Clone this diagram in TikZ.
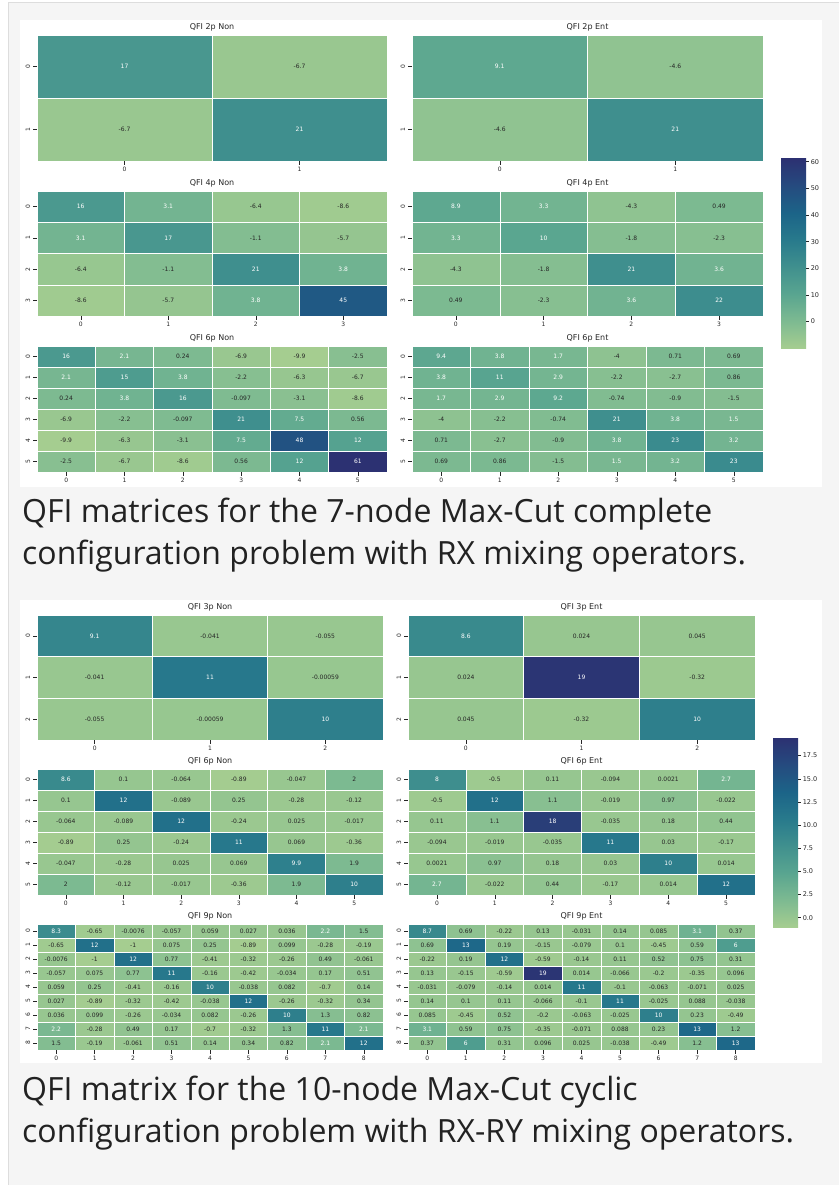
\documentclass[tikz,border=0pt]{standalone}
\usepackage{fontspec}
\newfontfamily\plotfont{DejaVu Sans}
\newfontfamily\capfont{Open Sans}
\usetikzlibrary{calc}

\definecolor{crest0}{HTML}{A5CD90}
\definecolor{crest1}{HTML}{7DBA91}
\definecolor{crest2}{HTML}{59A590}
\definecolor{crest3}{HTML}{40908E}
\definecolor{crest4}{HTML}{287A8C}
\definecolor{crest5}{HTML}{1C6488}
\definecolor{crest6}{HTML}{254B7F}
\definecolor{crest7}{HTML}{2C3172}
\definecolor{pagebg}{HTML}{F5F5F5}
\definecolor{pageline}{HTML}{DDDDDD}
\definecolor{axisgray}{HTML}{262626}
\definecolor{captext}{HTML}{222222}

\pgfdeclareverticalshading{crestbar}{100bp}{color(0bp)=(crest0); color(25bp)=(crest0);
  color(32.14bp)=(crest1); color(39.29bp)=(crest2); color(46.43bp)=(crest3);
  color(53.57bp)=(crest4); color(60.71bp)=(crest5); color(67.86bp)=(crest6);
  color(75bp)=(crest7); color(100bp)=(crest7)}

% name, title, left, top, width, height, size, rows
\newcommand{\qfimap}[8]{%
  \pgfmathsetmacro\cw{#5/#7}%
  \pgfmathsetmacro\ch{#6/#7}%
  \pgfmathtruncatemacro\lastrow{#7-1}%
  \node[maptitle] (#1-title) at ({#3+#5/2},{#4-8}) {#2};
  \foreach \row [count=\i from 0] in {#8} {
    \foreach \v [count=\j from 0] in \row {
      \pgfmathsetmacro\tq{(\v-\vlow)/(\vhigh-\vlow)*7}
      \pgfmathtruncatemacro\kk{min(\tq,6.999)}
      \pgfmathtruncatemacro\kn{\kk+1}
      \pgfmathtruncatemacro\ff{(\tq-\kk)*100}
      \pgfmathtruncatemacro\islight{\tq>\vtext}
      \edef\mixc{crest\kn!\ff!crest\kk}
      \colorlet{cellc}{\mixc}
      \ifnum\islight=1 \colorlet{cellt}{white}\else\colorlet{cellt}{axisgray}\fi
      \node[cell, fill=cellc, text=cellt, minimum width=\cw pt, minimum height=\ch pt]
        (#1-\i-\j) at ({#3+(\j+0.5)*\cw},{#4+(\i+0.5)*\ch}) {\v};
    }
    \draw[tick] (#1-\i-0.west) -- ++(-3.5,0);
    \node[rowlab] (#1-r\i) at ({#3-9},{#4+(\i+0.5)*\ch}) {\i};
  }
  \foreach \j in {0,...,\lastrow} {
    \draw[tick] (#1-\lastrow-\j.south) -- ++(0,3.5);
    \node[collab] (#1-c\j) at ({#3+(\j+0.5)*\cw},{#4+#6+8.5}) {\j};
  }
}

% name, left, top, right, bottom, ticks
\newcommand{\qfibar}[6]{%
  \shade[shading=crestbar] (#2,#3) rectangle (#4,#5);
  \foreach \t [count=\k] in {#6} {
    \pgfmathsetmacro\ty{#5-(\t-\vlow)/(\vhigh-\vlow)*(#5-#3)}
    \draw[tick] (#4,\ty) -- ++(3,0) node[barlab] (#1-\k) {\t};
  }
}

\begin{document}
\begin{tikzpicture}
  [
    x=1pt, y=-1pt,
    cell/.style={draw=white, line width=0.5pt, inner sep=0pt, font=\plotfont\fontsize{6}{7}\selectfont},
    maptitle/.style={inner sep=0pt, text=axisgray, font=\plotfont\fontsize{8}{9}\selectfont},
    rowlab/.style={inner sep=0pt, rotate=90, text=axisgray, font=\plotfont\fontsize{6}{7}\selectfont},
    collab/.style={inner sep=0pt, text=axisgray, font=\plotfont\fontsize{6}{7}\selectfont},
    barlab/.style={anchor=west, inner sep=1.5pt, text=axisgray, font=\plotfont\fontsize{6.5}{7}\selectfont},
    tick/.style={draw=axisgray, line width=0.5pt},
    caption/.style={anchor=base west, inner sep=0pt, text=captext, font=\capfont\fontsize{32}{42}\selectfont},
  ]
  \useasboundingbox (0,0) rectangle (838,1185);
  \fill[white] (0,0) rectangle (838,1185);
  \filldraw[fill=pagebg, draw=pageline] (8,2) rectangle (845,1195);
  \fill[white] (20,20) rectangle (822,487);
  \fill[white] (20,600) rectangle (822,1063);

  \def\vlow{-9.9}\def\vhigh{61}\def\vtext{1.085}
  \qfimap{nonA}{QFI 2p Non}{37}{35}{350}{126}{2}{{17,-6.7},{-6.7,21}}
  \qfimap{entA}{QFI 2p Ent}{412}{35}{351}{126}{2}{{9.1,-4.6},{-4.6,21}}
  \qfimap{nonB}{QFI 4p Non}{37}{191}{350}{125}{4}{{16,3.1,-6.4,-8.6},{3.1,17,-1.1,-5.7},{-6.4,-1.1,21,3.8},{-8.6,-5.7,3.8,45}}
  \qfimap{entB}{QFI 4p Ent}{412}{191}{351}{125}{4}{{8.9,3.3,-4.3,0.49},{3.3,10,-1.8,-2.3},{-4.3,-1.8,21,3.6},{0.49,-2.3,3.6,22}}
  \qfimap{nonC}{QFI 6p Non}{37}{346}{350}{126}{6}{{16,2.1,0.24,-6.9,-9.9,-2.5},{2.1,15,3.8,-2.2,-6.3,-6.7},{0.24,3.8,16,-0.097,-3.1,-8.6},{-6.9,-2.2,-0.097,21,7.5,0.56},{-9.9,-6.3,-3.1,7.5,48,12},{-2.5,-6.7,-8.6,0.56,12,61}}
  \qfimap{entC}{QFI 6p Ent}{412}{346}{351}{126}{6}{{9.4,3.8,1.7,-4,0.71,0.69},{3.8,11,2.9,-2.2,-2.7,0.86},{1.7,2.9,9.2,-0.74,-0.9,-1.5},{-4,-2.2,-0.74,21,3.8,1.5},{0.71,-2.7,-0.9,3.8,23,3.2},{0.69,0.86,-1.5,1.5,3.2,23}}
  \qfibar{barA}{781}{159}{806}{348}{0,10,20,30,40,50,60}

  \node[caption] (capA1) at (22,522) {QFI matrices for the 7-node Max-Cut complete};
  \node[caption] (capA2) at (22,564) {configuration problem with RX mixing operators.};

  \def\vlow{-1}\def\vhigh{19.4}\def\vtext{1.05}
  \qfimap{nonD}{QFI 3p Non}{37}{615}{346}{125}{3}{{9.1,-0.041,-0.055},{-0.041,11,-0.00059},{-0.055,-0.00059,10}}
  \qfimap{entD}{QFI 3p Ent}{408}{615}{347}{125}{3}{{8.6,0.024,0.045},{0.024,19,-0.32},{0.045,-0.32,10}}
  \qfimap{nonE}{QFI 6p Non}{37}{769}{346}{126}{6}{{8.6,0.1,-0.064,-0.89,-0.047,2},{0.1,12,-0.089,0.25,-0.28,-0.12},{-0.064,-0.089,12,-0.24,0.025,-0.017},{-0.89,0.25,-0.24,11,0.069,-0.36},{-0.047,-0.28,0.025,0.069,9.9,1.9},{2,-0.12,-0.017,-0.36,1.9,10}}
  \qfimap{entE}{QFI 6p Ent}{408}{769}{347}{126}{6}{{8,-0.5,0.11,-0.094,0.0021,2.7},{-0.5,12,1.1,-0.019,0.97,-0.022},{0.11,1.1,18,-0.035,0.18,0.44},{-0.094,-0.019,-0.035,11,0.03,-0.17},{0.0021,0.97,0.18,0.03,10,0.014},{2.7,-0.022,0.44,-0.17,0.014,12}}
  \qfimap{nonF}{QFI 9p Non}{37}{924}{346}{126}{9}{{8.3,-0.65,-0.0076,-0.057,0.059,0.027,0.036,2.2,1.5},{-0.65,12,-1,0.075,0.25,-0.89,0.099,-0.28,-0.19},{-0.0076,-1,12,0.77,-0.41,-0.32,-0.26,0.49,-0.061},{-0.057,0.075,0.77,11,-0.16,-0.42,-0.034,0.17,0.51},{0.059,0.25,-0.41,-0.16,10,-0.038,0.082,-0.7,0.14},{0.027,-0.89,-0.32,-0.42,-0.038,12,-0.26,-0.32,0.34},{0.036,0.099,-0.26,-0.034,0.082,-0.26,10,1.3,0.82},{2.2,-0.28,0.49,0.17,-0.7,-0.32,1.3,11,2.1},{1.5,-0.19,-0.061,0.51,0.14,0.34,0.82,2.1,12}}
  \qfimap{entF}{QFI 9p Ent}{408}{924}{347}{126}{9}{{8.7,0.69,-0.22,0.13,-0.031,0.14,0.085,3.1,0.37},{0.69,13,0.19,-0.15,-0.079,0.1,-0.45,0.59,6},{-0.22,0.19,12,-0.59,-0.14,0.11,0.52,0.75,0.31},{0.13,-0.15,-0.59,19,0.014,-0.066,-0.2,-0.35,0.096},{-0.031,-0.079,-0.14,0.014,11,-0.1,-0.063,-0.071,0.025},{0.14,0.1,0.11,-0.066,-0.1,11,-0.025,0.088,-0.038},{0.085,-0.45,0.52,-0.2,-0.063,-0.025,10,0.23,-0.49},{3.1,0.59,0.75,-0.35,-0.071,0.088,0.23,13,1.2},{0.37,6,0.31,0.096,0.025,-0.038,-0.49,1.2,13}}
  \qfibar{barB}{773}{738}{798}{927}{0.0,2.5,5.0,7.5,10.0,12.5,15.0,17.5}

  \node[caption] (capB1) at (22,1100) {QFI matrix for the 10-node Max-Cut cyclic};
  \node[caption] (capB2) at (22,1142) {configuration problem with RX-RY mixing operators.};
\end{tikzpicture}
\end{document}
